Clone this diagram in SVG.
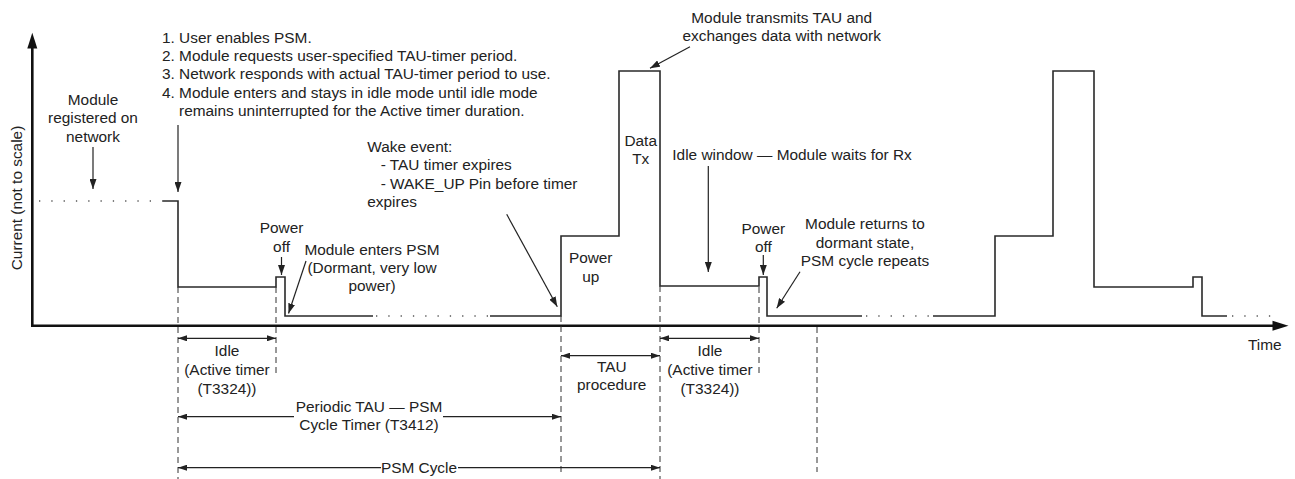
<svg xmlns="http://www.w3.org/2000/svg" width="1295" height="479" viewBox="0 0 1295 479">
<style>
text{font-family:"Liberation Sans",Arial,sans-serif;font-size:15.4px;fill:#222}
.m{text-anchor:middle}
.sig{fill:none;stroke:#2a2a2a;stroke-width:1.6}
.dot{fill:none;stroke:#555;stroke-width:1.3;stroke-dasharray:1.3 11}
.dash{fill:none;stroke:#333;stroke-width:1;stroke-dasharray:6 4}
.ptr{fill:none;stroke:#222;stroke-width:1.2;marker-end:url(#ah)}
.dim{fill:none;stroke:#222;stroke-width:1.2;marker-start:url(#dh);marker-end:url(#dh)}
.axis{fill:none;stroke:#111;stroke-width:2.6}
</style>
<defs>
<marker id="ah" viewBox="0 0 10 7" refX="10" refY="3.5" markerWidth="10" markerHeight="7" markerUnits="userSpaceOnUse" orient="auto-start-reverse"><path d="M0,0 L10,3.5 L0,7z" fill="#222"/></marker>
<marker id="dh" viewBox="0 0 9 6" refX="9" refY="3" markerWidth="9" markerHeight="6" markerUnits="userSpaceOnUse" orient="auto-start-reverse"><path d="M0,0 L9,3 L0,6z" fill="#222"/></marker>
</defs>
<rect width="1295" height="479" fill="#fff"/>

<g id="axes">
<path class="axis" d="M32.3,47 V325.7 H1274"/>
<path d="M27.3,48.5 L32.3,32.7 L37.3,48.5z" fill="#111"/>
<path d="M1272.5,320.7 L1288.5,325.7 L1272.5,330.7z" fill="#111"/>
<text x="1248" y="349.5">Time</text>
<text class="m" transform="translate(21.5,198) rotate(-90)">Current (not to scale)</text>
</g>

<g id="signal">
<path class="dot" d="M39,201 H163"/>
<path class="sig" d="M163,201 H178 V287 H276 V277 H285 V316 H373"/>
<path class="dot" d="M376,316 H490"/>
<path class="sig" d="M490,316 H561 V236 H619 V71 H660 V286 H759 V277 H767 V316 H862"/>
<path class="dot" d="M866,316 H933"/>
<path class="sig" d="M933,316 H995 V236 H1053 V71 H1094 V287 H1193 V277 H1202 V316 H1227"/>
<path class="dot" d="M1232,316 H1280"/>
</g>

<g id="guides">
<path class="dash" d="M178,287 V479"/>
<path class="dash" d="M276,287 V377"/>
<path class="dash" d="M561,316 V472"/>
<path class="dash" d="M660,286 V479"/>
<path class="dash" d="M759,287 V377"/>
<path class="dash" d="M817,327 V472"/>
</g>

<g id="connectors">
<path class="ptr" d="M93,147 V189"/>
<path class="ptr" d="M178,125 V192"/>
<path class="ptr" d="M281.5,257 V275"/>
<path class="ptr" d="M306,261 L288.5,313.5"/>
<path class="ptr" d="M506.7,214.3 L557.3,306.7"/>
<path class="ptr" d="M690,46.7 L650,68.3"/>
<path class="ptr" d="M708.3,166 V272"/>
<path class="ptr" d="M763.3,255 V275"/>
<path class="ptr" d="M800,271.7 L776.7,308.3"/>
<path class="dim" d="M178,338.3 H276"/>
<path class="dim" d="M561,355.7 H660"/>
<path class="dim" d="M660,338.3 H759"/>
<path class="dim" d="M178,416.7 H561"/>
<path class="dim" d="M178,467.7 H660"/>
</g>

<g id="n-registered"><text class="m" x="93" y="105">Module</text><text class="m" x="93" y="123.3">registered on</text><text class="m" x="93" y="141.5">network</text></g>

<g id="n-steps">
<text x="162" y="43">1. User enables PSM.</text>
<text x="162" y="61">2. Module requests user-specified TAU-timer period.</text>
<text x="162" y="79">3. Network responds with actual TAU-timer period to use.</text>
<text x="162" y="97.5">4. Module enters and stays in idle mode until idle mode</text>
<text x="179" y="115.5">remains uninterrupted for the Active timer duration.</text>
</g>

<g id="n-poweroff1"><text class="m" x="281.5" y="232.5">Power</text><text class="m" x="281.5" y="251.5">off</text></g>
<g id="n-psm"><text class="m" x="372" y="254.5">Module enters PSM</text><text class="m" x="372" y="273">(Dormant, very low</text><text class="m" x="372" y="291">power)</text></g>
<g id="n-wake">
<text x="367.3" y="151.5">Wake event:</text>
<text x="380.7" y="170">- TAU timer expires</text>
<text x="380.7" y="188.5">- WAKE_UP Pin before timer</text>
<text x="367.3" y="206.5">expires</text>
</g>
<g id="n-powerup"><text class="m" x="590.7" y="263">Power</text><text class="m" x="590.7" y="281.5">up</text></g>
<g id="n-datatx"><text class="m" x="640.7" y="145.5">Data</text><text class="m" x="640.7" y="164">Tx</text></g>
<g id="n-transmit"><text class="m" x="781.7" y="22.7">Module transmits TAU and</text><text class="m" x="781.7" y="41">exchanges data with network</text></g>
<g id="n-idlewindow"><text x="672.3" y="159.7">Idle window — Module waits for Rx</text></g>
<g id="n-poweroff2"><text class="m" x="763.3" y="233.7">Power</text><text class="m" x="763.3" y="252">off</text></g>
<g id="n-returns"><text class="m" x="865" y="229.4">Module returns to</text><text class="m" x="865" y="247.7">dormant state,</text><text class="m" x="865" y="266">PSM cycle repeats</text></g>

<g id="n-idle1"><text class="m" x="227" y="356.4">Idle</text><text class="m" x="227" y="375.4">(Active timer</text><text class="m" x="227" y="394.4">(T3324))</text></g>
<g id="n-tau"><text class="m" x="611.7" y="372">TAU</text><text class="m" x="611.7" y="390.4">procedure</text></g>
<g id="n-idle2"><text class="m" x="710" y="356.4">Idle</text><text class="m" x="710" y="375.4">(Active timer</text><text class="m" x="710" y="394.4">(T3324))</text></g>
<g id="n-periodic"><rect x="294" y="400" width="149" height="34" fill="#fff"/><text class="m" x="369" y="412">Periodic TAU — PSM</text><text class="m" x="369" y="430.4">Cycle Timer (T3412)</text></g>
<g id="n-cycle"><rect x="381" y="460" width="77" height="16" fill="#fff"/><text class="m" x="419" y="472.5">PSM Cycle</text></g>
</svg>
